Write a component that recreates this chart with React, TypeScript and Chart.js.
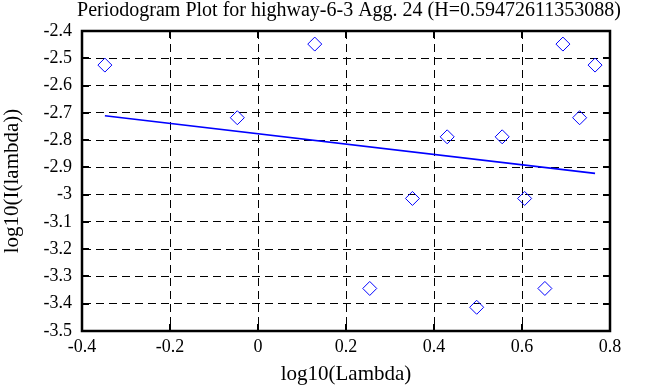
import React, { useEffect, useRef } from "react";
import { Chart, registerables } from "chart.js";

Chart.register(...registerables);

const logLambda = [-0.348, -0.047, 0.129, 0.254, 0.351, 0.430, 0.497, 0.555, 0.606, 0.652, 0.693, 0.731, 0.766];
const logPower = [-2.525, -2.718, -2.448, -3.344, -3.014, -2.788, -3.413, -2.788, -3.014, -3.344, -2.448, -2.718, -2.525];
const fitX = [-0.348, 0.766];
const fitY = [-2.711, -2.922];
const titleText = "Periodogram Plot for highway-6-3 Agg. 24 (H=0.59472611353088)";
const xTitle = "log10(Lambda)";
const yTitle = "log10(I(lambda))";

const FONT = "'Liberation Serif', 'Times New Roman', serif";

const innerTicks = {
  id: "innerTicks",
  afterDraw(chart: any) {
    const { ctx, chartArea, scales } = chart;
    const { left, right, top, bottom } = chartArea;
    ctx.save();
    ctx.strokeStyle = "#000";
    ctx.lineWidth = 2;
    ctx.beginPath();
    const tl = 7;
    scales.x.ticks.forEach((t: any) => {
      const px = Math.round(scales.x.getPixelForValue(t.value));
      ctx.moveTo(px, bottom);
      ctx.lineTo(px, bottom - tl);
      ctx.moveTo(px, top);
      ctx.lineTo(px, top + tl);
    });
    scales.y.ticks.forEach((t: any) => {
      const py = Math.round(scales.y.getPixelForValue(t.value));
      ctx.moveTo(left, py);
      ctx.lineTo(left + tl, py);
      ctx.moveTo(right, py);
      ctx.lineTo(right - tl, py);
    });
    ctx.stroke();
    ctx.lineWidth = 2.5;
    ctx.strokeRect(left, top, right - left, bottom - top);
    // title, centred a little right of the canvas centre as in the reference
    ctx.fillStyle = "#000";
    ctx.font = `20px ${FONT}`;
    ctx.textAlign = "center";
    ctx.textBaseline = "middle";
    ctx.fillText(titleText, (left + right) / 2 + 3, 11);
    ctx.restore();
  },
};

export default function App() {
  const ref = useRef<HTMLCanvasElement>(null);
  useEffect(() => {
    document.body.style.margin = "0";
    const scatter = logLambda.map((x, i) => ({ x, y: logPower[i] }));
    const fit = fitX.map((x, i) => ({ x, y: fitY[i] }));
    const chart = new Chart(ref.current!, {
      type: "scatter",
      data: {
        datasets: [
          {
            data: scatter,
            pointStyle: "rectRot",
            pointRadius: 7,
            borderColor: "#0000ff",
            backgroundColor: "rgba(0,0,0,0)",
            borderWidth: 1,
            showLine: false,
          },
          {
            data: fit,
            showLine: true,
            borderColor: "#0000ff",
            borderWidth: 1.6,
            pointRadius: 0,
            type: "line",
          },
        ],
      },
      plugins: [innerTicks],
      options: {
        animation: false,
        responsive: false,
        devicePixelRatio: 1,
        layout: { padding: { left: 0, right: 48, top: 31, bottom: 0 } },
        plugins: {
          legend: { display: false },
          tooltip: { enabled: false },
          title: { display: false },
        },
        scales: {
          x: {
            type: "linear",
            min: -0.4,
            max: 0.8,
            afterFit(s: any) { s.height = 56; },
            ticks: {
              stepSize: 0.2,
              color: "#000",
              font: { family: FONT, size: 18 },
              padding: 5,
              maxRotation: 0,
              callback: (v: any) => String(Math.round(Number(v) * 10) / 10),
            },
            grid: {
              color: "#000",
              lineWidth: 1,
              drawTicks: false,
            },
            border: { display: true, color: "#000", width: 2, dash: [8, 5] } as any,
            title: {
              display: true,
              text: xTitle,
              color: "#000",
              font: { family: FONT, size: 21 },
              padding: { top: 0, bottom: 0 },
            },
          },
          y: {
            type: "linear",
            min: -3.5,
            max: -2.4,
            afterFit(s: any) { s.width = 82; },
            ticks: {
              stepSize: 0.1,
              color: "#000",
              font: { family: FONT, size: 18 },
              padding: 10,
              callback: (v: any) => String(Math.round(Number(v) * 10) / 10),
            },
            grid: {
              color: "#000",
              lineWidth: 1,
              drawTicks: false,
            },
            border: { display: true, color: "#000", width: 2, dash: [8, 5] } as any,
            title: {
              display: true,
              text: yTitle,
              color: "#000",
              font: { family: FONT, size: 21 },
              padding: { top: 0, bottom: 0 },
            },
          },
        },
      } as any,
    });
    return () => chart.destroy();
  }, []);
  return (
    <div style={{ width: 658, height: 387 }}>
      <canvas ref={ref} width={658} height={387} style={{ width: 658, height: 387, display: "block" }} />
    </div>
  );
}
